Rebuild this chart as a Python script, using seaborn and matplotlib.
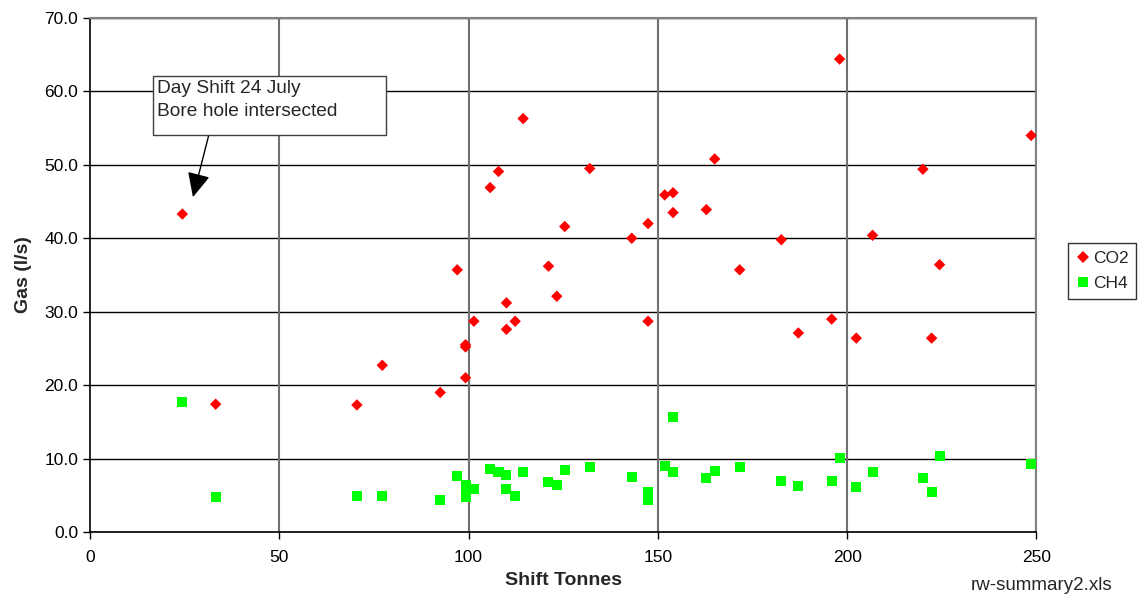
import pandas as pd
import seaborn as sns
import matplotlib
matplotlib.use('Agg')
import matplotlib.pyplot as plt
from matplotlib.patches import Rectangle

# values
shift_tonnes = [24.4, 33.2, 70.5, 77.2, 92.5, 97.0, 99.2, 99.2, 99.2, 101.4,
                105.7, 107.9, 110.0, 110.0, 112.3, 114.4, 121.1, 123.3, 125.4, 132.0,
                143.1, 147.4, 147.4, 151.8, 154.0, 154.0, 162.8, 165.0, 171.6, 182.6,
                187.1, 195.9, 198.0, 202.4, 206.7, 220.0, 222.3, 224.4, 248.6]
co2 = [43.3, 17.4, 17.3, 22.7, 19.0, 35.7, 25.5, 25.2, 21.0, 28.7,
       46.9, 49.1, 31.2, 27.6, 28.7, 56.3, 36.2, 32.1, 41.6, 49.5,
       40.0, 42.0, 28.7, 45.9, 46.2, 43.5, 43.9, 50.8, 35.7, 39.8,
       27.1, 29.0, 64.4, 26.4, 40.4, 49.4, 26.4, 36.4, 54.0]
ch4 = [17.7, 4.8, 4.9, 4.9, 4.4, 7.6, 6.4, 5.6, 4.8, 5.9,
       8.6, 8.2, 7.8, 5.8, 4.9, 8.2, 6.8, 6.4, 8.4, 8.9,
       7.5, 5.5, 4.4, 9.0, 15.7, 8.2, 7.3, 8.3, 8.8, 6.9,
       6.3, 7.0, 10.1, 6.1, 8.2, 7.3, 5.5, 10.3, 9.3]
series = ['CO2', 'CH4']
colors = {'CO2': '#ff0000', 'CH4': '#00ff00'}
markers = {'CO2': 'D', 'CH4': 's'}
marker_sizes = {'CO2': 34, 'CH4': 52}

df = pd.DataFrame({
    'Shift Tonnes': shift_tonnes * 2,
    'Gas': co2 + ch4,
    'Series': ['CO2'] * len(co2) + ['CH4'] * len(ch4),
})

sns.set_style('white')
plt.rcParams['font.family'] = ['Liberation Sans', 'DejaVu Sans']

fig = plt.figure(figsize=(11.39, 6.05), dpi=100)
ax = fig.add_axes([0.079, 0.1207, 0.831, 0.8496])

# grid first so points sit on top
for v in range(0, 71, 10):
    ax.axhline(v, color='black', lw=1.0, zorder=1)
for v in range(50, 251, 50):
    ax.axvline(v, color='#707070', lw=1.5, zorder=1)

sns.scatterplot(data=df, x='Shift Tonnes', y='Gas', hue='Series', style='Series',
                size='Series', hue_order=series, style_order=series, size_order=series,
                palette=colors, markers=markers, sizes=marker_sizes,
                linewidth=0, ax=ax, zorder=3)

ax.set_xlim(0, 250)
ax.set_ylim(0, 70)
ax.set_xticks(range(0, 251, 50))
ax.set_yticks(range(0, 71, 10))
ax.set_yticklabels([f'{v:.1f}' for v in range(0, 71, 10)])
ax.tick_params(axis='both', direction='out', length=5, width=1, colors='black',
               labelsize=12.5, left=True, bottom=True)
ax.tick_params(axis='x', pad=8)

for side in ['left', 'bottom']:
    ax.spines[side].set_color('black')
    ax.spines[side].set_linewidth(1.2)
for side in ['top', 'right']:
    ax.spines[side].set_color('#808080')
    ax.spines[side].set_linewidth(1.5)

ax.set_xlabel('Shift Tonnes', fontsize=14, fontweight='bold', labelpad=5)
ax.set_ylabel('Gas (l/s)', fontsize=14, fontweight='bold', labelpad=9)

# note on the first point
ax.add_patch(Rectangle((16.6, 54.1), 61.5, 8.0, fc='white', ec='#404040', lw=1, zorder=5))
ax.text(17.8, 61.5, 'Day Shift 24 July\nBore hole intersected', fontsize=13.8,
        va='top', ha='left', linespacing=1.45, zorder=6)
ax.annotate('', xy=(27.2, 45.6), xytext=(31.3, 53.9),
            arrowprops=dict(arrowstyle='-|>,head_length=1.5,head_width=0.7',
                            color='black', lw=1, shrinkA=0, shrinkB=0), zorder=5)

leg = ax.legend(loc='center left', bbox_to_anchor=(0.9375, 0.552),
                bbox_transform=fig.transFigure, frameon=True, fancybox=False,
                fontsize=12.5, handletextpad=0.1, borderpad=0.45, labelspacing=0.6,
                handlelength=0.9, borderaxespad=0)
leg.get_frame().set_edgecolor('black')
leg.get_frame().set_linewidth(1)

fig.text(0.977, 0.018, 'rw-summary2.xls', ha='right', va='bottom', fontsize=13.5)

fig.savefig('out.png', dpi=100)
